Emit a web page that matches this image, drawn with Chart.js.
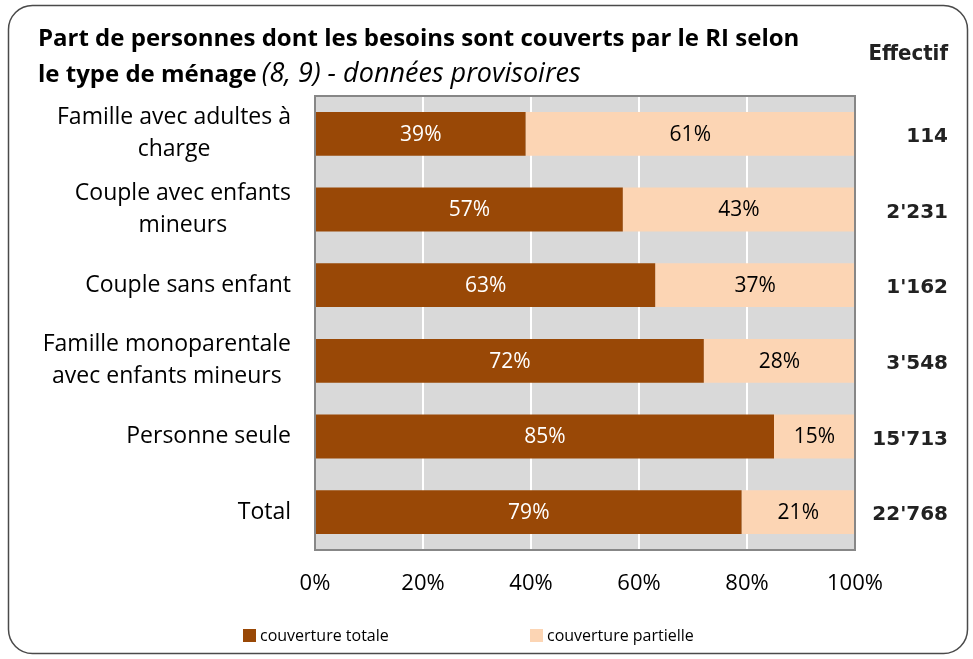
<!DOCTYPE html>
<html>
<head>
<meta charset="utf-8">
<script src="https://cdn.jsdelivr.net/npm/chart.js@4"></script>
<style>
  html, body { margin: 0; padding: 0; background: #fff; }
  #wrap { width: 973px; height: 659px; }
</style>
</head>
<body>
<div id="wrap"><canvas id="myChart" width="973" height="659"></canvas></div>
<script>
// data
var categories = [
  ['Famille avec adultes à', 'charge'],
  ['Couple avec enfants', 'mineurs'],
  ['Couple sans enfant'],
  ['Famille monoparentale', 'avec enfants mineurs'],
  ['Personne seule'],
  ['Total']
];
var couvertureTotale = [39, 57, 63, 72, 85, 79];
var couverturePartielle = [61, 43, 37, 28, 15, 21];
var effectifs = ["114", "2'231", "1'162", "3'548", "15'713", "22'768"];
var xTicks = [0, 20, 40, 60, 80, 100];

var FONT = '"Open Sans", Lato, sans-serif';
var dark = '#994806', light = '#fcd5b4';

var decor = {
  id: 'decor',
  beforeDraw: function(chart) {
    var c = chart.ctx, a = chart.chartArea;
    c.save();
    // outer rounded frame
    c.strokeStyle = '#4a4a4a';
    c.lineWidth = 1.5;
    c.beginPath();
    c.roundRect(8.5, 5.5, 959, 648, 24);
    c.stroke();
    // plot background
    c.fillStyle = '#d9d9d9';
    c.fillRect(a.left, a.top, a.right - a.left, a.bottom - a.top);
    c.restore();
  },
  afterDatasetsDraw: function(chart) {
    var c = chart.ctx, a = chart.chartArea;
    var ys = chart.scales.y;
    c.save();
    // plot border
    c.strokeStyle = '#878787';
    c.lineWidth = 2;
    c.strokeRect(a.left, a.top, a.right - a.left, a.bottom - a.top);

    // value labels inside bars
    c.font = '21px ' + FONT;
    c.textAlign = 'center';
    c.textBaseline = 'middle';
    chart.data.datasets.forEach(function(ds, di) {
      chart.getDatasetMeta(di).data.forEach(function(bar, i) {
        var cx = (bar.base + bar.x) / 2;
        c.fillStyle = di === 0 ? '#ffffff' : '#000000';
        c.fillText(ds.data[i] + '%', cx, bar.y + 1);
      });
    });

    // category labels: lines centred, block right-aligned
    c.fillStyle = '#000';
    c.font = '23px ' + FONT;
    categories.forEach(function(lines, i) {
      var y = ys.getPixelForValue(i);
      var w = Math.max.apply(null, lines.map(function(l) { return c.measureText(l).width; }));
      var cx = 291 - w / 2;
      var lh = 32;
      var y0 = y - (lines.length - 1) * lh / 2;
      lines.forEach(function(l, k) { c.fillText(l, cx, y0 + k * lh); });
    });

    // effectif column
    c.textAlign = 'right';
    c.fillStyle = '#222';
    c.font = 'bold 22px "DejaVu Sans Condensed", "DejaVu Sans", sans-serif';
    c.fillText('Effectif', 948, 54);
    c.font = 'bold 20px "DejaVu Sans", sans-serif';
    effectifs.forEach(function(v, i) {
      c.fillText(v, 948, ys.getPixelForValue(i) + 3);
    });

    // title
    c.textAlign = 'left';
    c.textBaseline = 'alphabetic';
    c.fillStyle = '#000';
    c.font = 'bold 24px ' + FONT;
    c.fillText('Part de personnes dont les besoins sont couverts par le RI selon', 38, 46);
    var t2 = 'le type de ménage';
    c.fillText(t2, 38, 82);
    var w2 = c.measureText(t2).width;
    c.font = 'italic 27px ' + FONT;
    c.fillText(' (8, 9) - données provisoires', 36 + w2, 82);

    // legend
    c.font = '16px ' + FONT;
    c.textBaseline = 'middle';
    var items = [['couverture totale', dark, 243], ['couverture partielle', light, 530]];
    items.forEach(function(it) {
      c.fillStyle = it[1];
      c.fillRect(it[2], 629, 13, 13);
      c.fillStyle = '#000';
      c.fillText(it[0], it[2] + 17, 636);
    });
    c.restore();
  }
};

var ctx = document.getElementById('myChart').getContext('2d');
var chart = new Chart(ctx, {
  type: 'bar',
  data: {
    labels: categories.map(function(l) { return l.join(' '); }),
    datasets: [
      { label: 'couverture totale', data: couvertureTotale, backgroundColor: dark },
      { label: 'couverture partielle', data: couverturePartielle, backgroundColor: light }
    ]
  },
  options: {
    indexAxis: 'y',
    responsive: false,
    animation: false,
    categoryPercentage: 1,
    barPercentage: 0.58,
    layout: { padding: { left: 20, right: 118, top: 96, bottom: 49 } },
    plugins: {
      legend: { display: false },
      title: { display: false },
      tooltip: { enabled: false }
    },
    scales: {
      x: {
        stacked: true,
        min: 0, max: 100,
        afterBuildTicks: function(s) { s.ticks = xTicks.map(function(v) { return { value: v }; }); },
        afterFit: function(s) { s.height = 60; },
        grid: { color: '#ffffff', lineWidth: 2, drawTicks: false },
        border: { display: false },
        ticks: {
          padding: 21,
          color: '#000',
          font: { family: FONT, size: 22 },
          callback: function(v) { return v + '%'; }
        }
      },
      y: {
        stacked: true,
        afterFit: function(s) { s.width = 295; },
        grid: { display: false },
        border: { display: false },
        ticks: { display: false }
      }
    }
  },
  plugins: [decor]
});
</script>
</body>
</html>
